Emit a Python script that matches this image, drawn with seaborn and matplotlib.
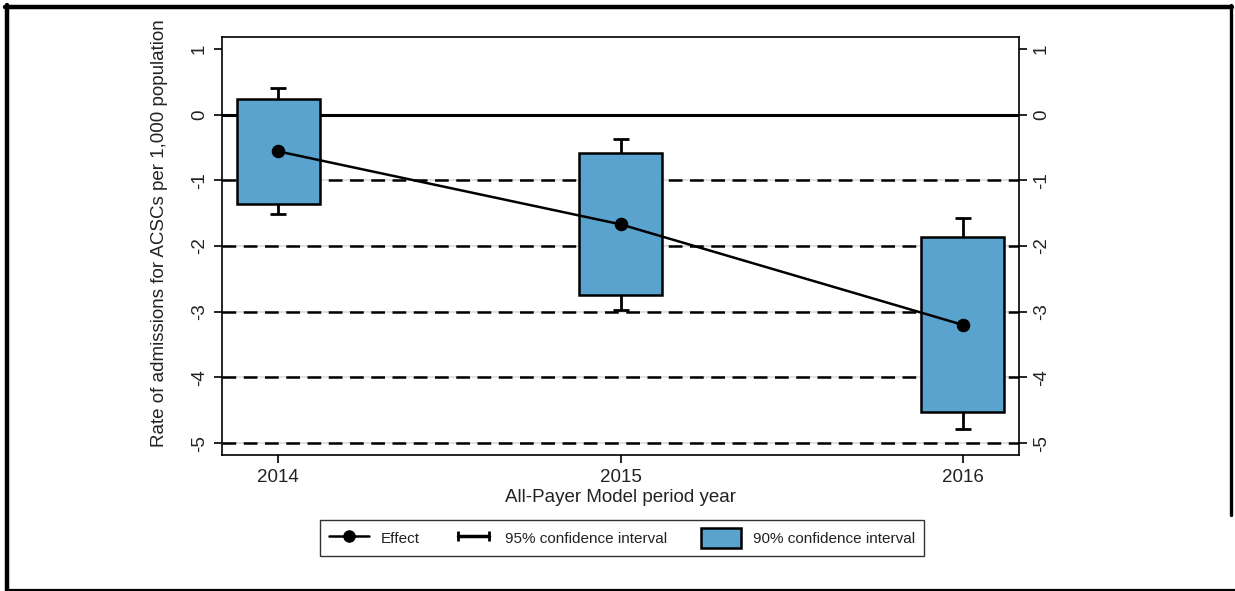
import matplotlib
matplotlib.use("Agg")
import matplotlib.pyplot as plt
from matplotlib.lines import Line2D
from matplotlib.patches import Patch
from matplotlib.legend_handler import HandlerLine2D
import numpy as np
import pandas as pd
import seaborn as sns

# Estimated effect of the All-Payer Model on ACSC admissions, by period year
years = [2014, 2015, 2016]
effect = [-0.56, -1.67, -3.20]
ci90_low = [-1.36, -2.74, -4.52]
ci90_high = [0.23, -0.59, -1.86]
ci95_low = [-1.52, -2.97, -4.79]
ci95_high = [0.40, -0.37, -1.58]
y_ticks = [1, 0, -1, -2, -3, -4, -5]
ref_lines = [-1, -2, -3, -4, -5]

sns.set_theme(style="white")
plt.rcParams["font.family"] = ["Liberation Sans", "DejaVu Sans"]
plt.rcParams["axes.unicode_minus"] = False

df = pd.DataFrame({"year": years, "effect": effect})

W, H = 1235, 591
fig = plt.figure(figsize=(W / 100, H / 100), dpi=100)
ax = fig.add_axes([222 / W, 1 - 455 / H, 797 / W, 418 / H])

ax.set_xlim(2013.836, 2016.164)
ax.set_ylim(-5.18, 1.18)

# reference lines: faint grid under dashed black lines, solid line at zero
for v in ref_lines:
    ax.axhline(v, color="#dcdcdc", lw=1.2, zorder=0.5)
    ax.axhline(v, color="black", lw=1.8, ls=(0, (5.5, 3)), zorder=1)
ax.axhline(0, color="black", lw=2.2, zorder=1)

# 95% confidence interval whiskers
eff = np.array(effect)
ax.errorbar(years, eff,
            yerr=[eff - np.array(ci95_low), np.array(ci95_high) - eff],
            fmt="none", ecolor="black", elinewidth=2, capsize=5.5, capthick=2,
            zorder=2)

# 90% confidence interval boxes
box_color = "#5aa3cf"
ax.bar(years, np.array(ci90_high) - np.array(ci90_low), bottom=ci90_low,
       width=0.243, color=box_color, edgecolor="black", linewidth=1.8,
       zorder=3)

# point estimates connected by a line
sns.lineplot(data=df, x="year", y="effect", ax=ax, color="black", lw=1.8,
             marker="o", markersize=9, markeredgecolor="black", zorder=4)

ax.set_xticks(years)
ax.set_xticklabels([str(y) for y in years], fontsize=13.5, color="#222222")
ax.set_yticks(y_ticks)
ax.set_yticklabels([str(t) for t in y_ticks], fontsize=13.5, rotation=90,
                   va="center", color="#222222")
ax.tick_params(axis="both", which="both", direction="out", length=6,
               width=1.2, color="black", pad=4, left=True, bottom=True)
ax.set_xlabel("All-Payer Model period year", fontsize=13.5, labelpad=2,
              color="#222222")
ax.set_ylabel("Rate of admissions for ACSCs per 1,000 population",
              fontsize=13.5, color="#222222")
ax.yaxis.set_label_coords(-0.068, 0.531)

for s in ax.spines.values():
    s.set_color("black")
    s.set_linewidth(1.2)

# mirrored axis on the right
ax2 = ax.twinx()
ax2.set_ylim(ax.get_ylim())
ax2.set_yticks(y_ticks)
ax2.set_yticklabels([str(t) for t in y_ticks], fontsize=13.5, rotation=90,
                    va="center", color="#222222")
ax2.tick_params(axis="y", direction="out", length=6, width=1.2,
                color="black", pad=4, right=True)
ax2.grid(False)
for s in ax2.spines.values():
    s.set_visible(False)

# legend below the plot
handles = [
    Line2D([0], [0], color="black", lw=1.8, marker="o", markersize=8),
    Line2D([0], [0], color="black", lw=2.5, marker="|", markersize=7,
           markeredgewidth=2),
    Patch(facecolor=box_color, edgecolor="black", linewidth=1.8),
]
labels = ["Effect", "95% confidence interval", "90% confidence interval"]
leg = fig.legend(handles, labels, loc="center", ncol=3,
                 bbox_to_anchor=(622 / W, 1 - 538 / H), fontsize=11,
                 frameon=True, fancybox=False, edgecolor="black",
                 handlelength=2.6, handleheight=1.6, handletextpad=0.8,
                 columnspacing=2.2, borderpad=0.55,
                 handler_map={handles[0]: HandlerLine2D(numpoints=1),
                              handles[1]: HandlerLine2D(numpoints=2)})
leg.get_frame().set_linewidth(1.0)
for t in leg.get_texts():
    t.set_color("#222222")

# outer frame around the graphic
fig.add_artist(Line2D([7 / W, 7 / W], [0, 1 - 5 / H], color="black",
                      lw=3.2, transform=fig.transFigure))
fig.add_artist(Line2D([5 / W, 1232 / W], [1 - 7 / H, 1 - 7 / H],
                      color="black", lw=3.2, transform=fig.transFigure))
fig.add_artist(Line2D([7 / W, 1], [1 - 589.5 / H, 1 - 589.5 / H],
                      color="black", lw=1.6, transform=fig.transFigure))
fig.add_artist(Line2D([1231 / W, 1231 / W], [1 - 5 / H, 1 - 515 / H],
                      color="black", lw=2.4, transform=fig.transFigure))

fig.savefig("out.png", dpi=100, facecolor="white")
